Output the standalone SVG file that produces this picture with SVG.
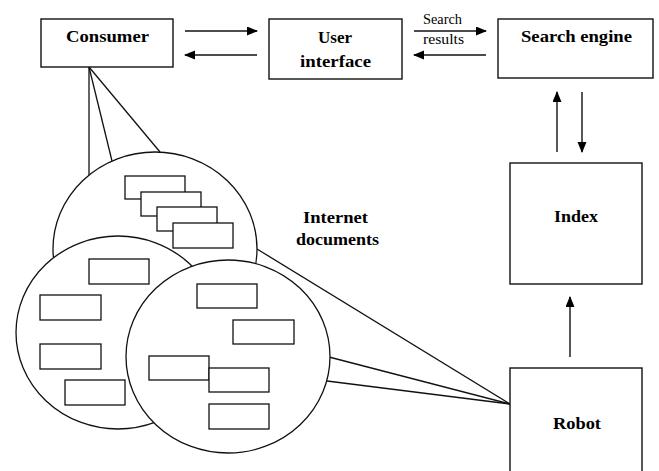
<svg xmlns="http://www.w3.org/2000/svg" width="659" height="471" viewBox="0 0 659 471">
<defs>
<marker id="ah" markerUnits="userSpaceOnUse" markerWidth="11" markerHeight="10" refX="10" refY="4.5" orient="auto">
<path d="M0,0 L11,4.5 L0,9 z" fill="#000"/>
</marker>
<style>
.box{fill:#fff;stroke:#111;stroke-width:1.4}
.doc{fill:#fff;stroke:#111;stroke-width:1.3}
.circ{fill:#fff;stroke:#111;stroke-width:1.3}
.ln{fill:none;stroke:#111;stroke-width:1.3}
.arr{fill:none;stroke:#111;stroke-width:1.4;marker-end:url(#ah)}
.lbl{font-family:"Liberation Serif","Times New Roman",serif;font-weight:bold;font-size:17px;fill:#000}
.sm{font-family:"Liberation Serif","Times New Roman",serif;font-size:14px;fill:#000}
</style>
</defs>
<rect width="659" height="471" fill="#fff"/>
<g id="connectors">
<line class="ln" x1="89" y1="67" x2="89" y2="175"/>
<line class="ln" x1="89" y1="67" x2="112" y2="161"/>
<line class="ln" x1="89" y1="67" x2="160" y2="152"/>
<line class="ln" x1="257" y1="249" x2="510" y2="404"/>
<line class="ln" x1="329" y1="357" x2="510" y2="404"/>
<line class="ln" x1="327" y1="381" x2="510" y2="404"/>
<line class="arr" x1="185" y1="31" x2="257" y2="31"/>
<line class="arr" x1="257" y1="55" x2="185" y2="55"/>
<line class="arr" x1="414" y1="31" x2="486" y2="31"/>
<line class="arr" x1="486" y1="55" x2="414" y2="55"/>
<line class="arr" x1="557" y1="152" x2="557" y2="92"/>
<line class="arr" x1="582" y1="92" x2="582" y2="152"/>
<line class="arr" x1="570" y1="357" x2="570" y2="297"/>
<text class="sm" x="423" y="24" textLength="39" lengthAdjust="spacingAndGlyphs">Search</text>
<text class="sm" x="423" y="44" textLength="41" lengthAdjust="spacingAndGlyphs">results</text>
</g>
<g id="consumer">
<rect class="box" x="41" y="19" width="132" height="48"/>
<text class="lbl" x="66" y="42" textLength="83" lengthAdjust="spacingAndGlyphs">Consumer</text>
</g>
<g id="user-interface">
<rect class="box" x="269" y="19" width="133" height="60"/>
<text class="lbl" x="318" y="43" textLength="34" lengthAdjust="spacingAndGlyphs">User</text>
<text class="lbl" x="300" y="67" textLength="71" lengthAdjust="spacingAndGlyphs">interface</text>
</g>
<g id="search-engine">
<rect class="box" x="498" y="19" width="155" height="59"/>
<text class="lbl" x="521" y="42" textLength="111" lengthAdjust="spacingAndGlyphs">Search engine</text>
</g>
<g id="index">
<rect class="box" x="510" y="163" width="132" height="121"/>
<text class="lbl" x="554" y="222" textLength="44" lengthAdjust="spacingAndGlyphs">Index</text>
</g>
<g id="robot">
<rect class="box" x="510" y="368" width="132" height="110"/>
<text class="lbl" x="553" y="429" textLength="48" lengthAdjust="spacingAndGlyphs">Robot</text>
</g>
<g id="internet-documents">
<g id="site-top">
<ellipse class="circ" cx="155" cy="249" rx="102" ry="97"/>
<rect class="doc" x="125" y="176" width="60" height="23"/>
<rect class="doc" x="141" y="192" width="60" height="24"/>
<rect class="doc" x="157" y="207" width="60" height="24"/>
<rect class="doc" x="173" y="223" width="60" height="25"/>
</g>
<g id="site-left">
<ellipse class="circ" cx="118" cy="332.5" rx="102" ry="96.5"/>
<rect class="doc" x="89" y="259" width="60" height="25"/>
<rect class="doc" x="40" y="295" width="61" height="25"/>
<rect class="doc" x="40" y="344" width="61" height="25"/>
<rect class="doc" x="65" y="380" width="60" height="25"/>
</g>
<g id="site-right">
<ellipse class="circ" cx="228" cy="356.5" rx="102" ry="96.5"/>
<rect class="doc" x="197" y="284" width="60" height="24"/>
<rect class="doc" x="233" y="320" width="61" height="24"/>
<rect class="doc" x="149" y="356" width="60" height="24"/>
<rect class="doc" x="209" y="368" width="60" height="24"/>
<rect class="doc" x="209" y="404" width="60" height="25"/>
</g>
<text class="lbl" x="303" y="223" textLength="65" lengthAdjust="spacingAndGlyphs">Internet</text>
<text class="lbl" x="296" y="245" textLength="83" lengthAdjust="spacingAndGlyphs">documents</text>
</g>
</svg>
